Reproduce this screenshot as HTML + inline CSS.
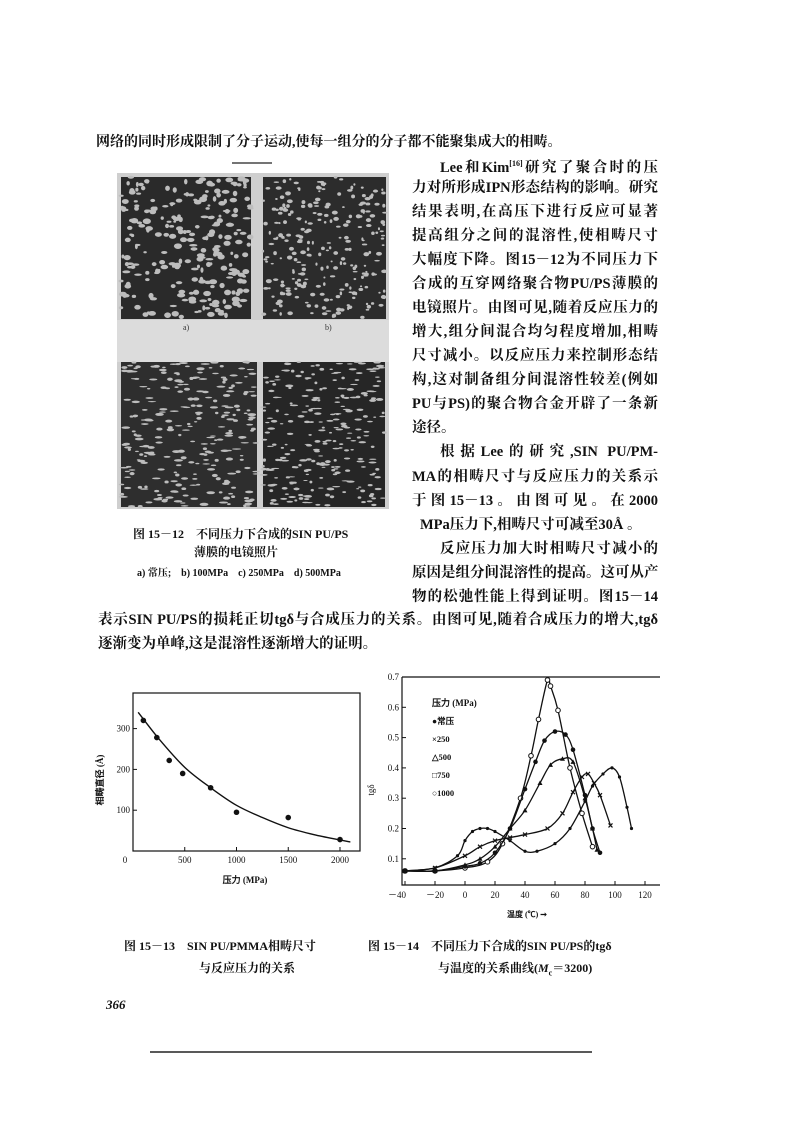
<!DOCTYPE html>
<html><head><meta charset="utf-8">
<style>
html,body{margin:0;padding:0;background:#fff}
body{width:794px;height:1122px;position:relative;overflow:hidden;font-family:"Liberation Serif","Noto Serif CJK SC","Noto Sans CJK SC",serif;color:#111}
.ln{position:absolute;font-size:14.5px;line-height:18px;white-space:nowrap;font-weight:bold}
.j{width:246px;text-align:justify;text-align-last:justify}
.cap{position:absolute;font-size:12px;white-space:nowrap;font-weight:bold}
svg{position:absolute;left:0;top:0}
</style></head>
<body>
<div class="ln" style="left:96px;top:134px;font-size:14px">网络的同时形成限制了分子运动,使每一组分的分子都不能聚集成大的相畴。</div>
<div>
<div class="ln j" style="left:412px;top:155px;width:246px;text-indent:28px;box-sizing:border-box">Lee和Kim<sup style="font-size:8px">[16]</sup>研究了聚合时的压</div>
<div class="ln j" style="left:412px;top:179px">力对所形成IPN形态结构的影响。研究</div>
<div class="ln j" style="left:412px;top:203px">结果表明,在高压下进行反应可显著</div>
<div class="ln j" style="left:412px;top:227px">提高组分之间的混溶性,使相畴尺寸</div>
<div class="ln j" style="left:412px;top:251px">大幅度下降。图15－12为不同压力下</div>
<div class="ln j" style="left:412px;top:275px">合成的互穿网络聚合物PU/PS薄膜的</div>
<div class="ln j" style="left:412px;top:299px">电镜照片。由图可见,随着反应压力的</div>
<div class="ln j" style="left:412px;top:323px">增大,组分间混合均匀程度增加,相畴</div>
<div class="ln j" style="left:412px;top:347px">尺寸减小。以反应压力来控制形态结</div>
<div class="ln j" style="left:412px;top:371px">构,这对制备组分间混溶性较差(例如</div>
<div class="ln j" style="left:412px;top:395px">PU与PS)的聚合物合金开辟了一条新</div>
<div class="ln" style="left:412px;top:419px">途径。</div>
<div class="ln j" style="left:412px;top:443px;padding-left:28px;box-sizing:border-box">根据Lee的研究,SIN PU/PM-</div>
<div class="ln j" style="left:412px;top:468px">MA的相畴尺寸与反应压力的关系示</div>
<div class="ln j" style="left:412px;top:492px">于图15－13。由图可见。在2000</div>
<div class="ln" style="left:420px;top:516px">MPa压力下,相畴尺寸可减至30Å 。</div>
<div class="ln j" style="left:412px;top:540px;padding-left:28px;box-sizing:border-box">反应压力加大时相畴尺寸减小的</div>
<div class="ln j" style="left:412px;top:564px">原因是组分间混溶性的提高。这可从产</div>
<div class="ln j" style="left:412px;top:588px">物的松弛性能上得到证明。图15－14</div>
<div class="ln" style="left:98px;top:611px;width:560px;text-align:justify;text-align-last:justify">表示SIN PU/PS的损耗正切tgδ与合成压力的关系。由图可见,随着合成压力的增大,tgδ</div>
<div class="ln" style="left:98px;top:635px">逐渐变为单峰,这是混溶性逐渐增大的证明。</div>
</div>
<div class="cap" style="left:133px;top:525px">图 15－12　不同压力下合成的SIN PU/PS</div>
<div class="cap" style="left:194px;top:543px">薄膜的电镜照片</div>
<div class="cap" style="left:137px;top:564px;font-size:10px">a) 常压;　b) 100MPa　c) 250MPa　d) 500MPa</div>
<div class="cap" style="left:124px;top:937px">图 15－13　SIN PU/PMMA相畴尺寸</div>
<div class="cap" style="left:199px;top:959px">与反应压力的关系</div>
<div class="cap" style="left:368px;top:937px">图 15－14　不同压力下合成的SIN PU/PS的tgδ</div>
<div class="cap" style="left:438px;top:959px">与温度的关系曲线(<i>M</i><sub style="font-size:8px">c</sub>＝3200)</div>
<div class="cap" style="left:106px;top:997px;font-style:italic;font-size:13px">366</div>

<svg id="s" width="794" height="1122" viewBox="0 0 794 1122">
<line x1="232" y1="163" x2="272" y2="163" stroke="#222" stroke-width="1.2"/>
<line x1="150" y1="1052" x2="592" y2="1052" stroke="#222" stroke-width="1.5"/>
<rect x="117" y="173" width="272" height="336" fill="#cfcfcf"/>
<rect x="121" y="177" width="130" height="142" fill="#2a2a2a"/>
<rect x="263" y="177" width="123" height="142" fill="#2c2c2c"/>
<rect x="121" y="362" width="136" height="145" fill="#2e2e2e"/>
<rect x="263" y="362" width="122" height="145" fill="#262626"/>
<rect x="117" y="320" width="272" height="42" fill="#dcdcdc"/>
<text x="183" y="330" font-size="8" fill="#333">a)</text>
<text x="325" y="330" font-size="8" fill="#333">b)</text>
<g id="speck" fill="#c8c8c8"></g>
<g id="c13" font-family="Liberation Serif,serif" font-size="9" fill="#111"></g>
<g id="c14" font-family="Liberation Serif,serif" font-size="9" fill="#111"></g>
</svg>
<script>
// Fig 15-13 data
const pressures=[100,230,350,480,750,1000,1500,2000];
const sizes=[320,278,222,190,155,95,82,28];
const fitP=[50,250,500,750,1000,1250,1500,1750,2000,2100];
const fitS=[340,275,205,155,112,82,57,40,27,22];
const xTicks13=[0,500,1000,1500,2000];
const yTicks13=[100,200,300];
// Fig 15-14 data
const temps=[-40,-20,0,20,40,60,80,100,120];
const yTicks14=[0.1,0.2,0.3,0.4,0.5,0.6,0.7];
const tA=[-40,-20,0,15,25,37,44,49,55,57,62,70,78,85];
const vA=[0.06,0.06,0.07,0.09,0.15,0.30,0.44,0.56,0.69,0.67,0.59,0.40,0.25,0.14];
const tB=[-40,-20,0,10,20,30,40,47,53,60,67,72,80,85,90];
const vB=[0.06,0.06,0.075,0.085,0.12,0.20,0.33,0.42,0.49,0.52,0.51,0.46,0.31,0.20,0.12];
const tC=[-40,-20,0,10,20,30,40,50,57,65,72,80,85,88];
const vC=[0.06,0.06,0.08,0.10,0.14,0.20,0.26,0.35,0.41,0.43,0.42,0.30,0.20,0.13];
const tD=[-40,-20,0,10,20,30,40,55,65,72,78,82,86,90,97];
const vD=[0.06,0.07,0.11,0.14,0.16,0.17,0.18,0.20,0.25,0.32,0.37,0.38,0.35,0.31,0.21];
const tE=[-40,-20,-5,0,5,10,15,20,30,40,48,60,70,80,85,92,98,103,108,111];
const vE=[0.06,0.07,0.11,0.16,0.19,0.20,0.20,0.19,0.16,0.125,0.125,0.15,0.20,0.29,0.34,0.38,0.40,0.37,0.27,0.20];
const legendLabels=['压力 (MPa)','●常压','×250','△500','□750','○1000'];

const NS='http://www.w3.org/2000/svg';
function mk(tag,attrs,parent){const e=document.createElementNS(NS,tag);for(const k in attrs)e.setAttribute(k,attrs[k]);parent.appendChild(e);return e;}
function smooth(pts){let d='M'+pts[0][0]+','+pts[0][1];for(let i=0;i<pts.length-1;i++){const p0=pts[Math.max(0,i-1)],p1=pts[i],p2=pts[i+1],p3=pts[Math.min(pts.length-1,i+2)];
const c1x=p1[0]+(p2[0]-p0[0])/6,c1y=p1[1]+(p2[1]-p0[1])/6,c2x=p2[0]-(p3[0]-p1[0])/6,c2y=p2[1]-(p3[1]-p1[1])/6;
d+=' C'+c1x+','+c1y+' '+c2x+','+c2y+' '+p2[0]+','+p2[1];}return d;}

// speckles (photo texture)
let seed=7;function rnd(){seed=(seed*16807)%2147483647;return seed/2147483647;}
const sp=document.getElementById('speck');
[[121,177,130,142,1.8],[263,177,123,142,1.3],[121,362,136,145,1],[263,362,122,145,0.9]].forEach(r=>{
 for(let i=0;i<260;i++){const e=mk('ellipse',{cx:r[0]+rnd()*r[2],cy:r[1]+rnd()*r[3],rx:r[4]*(0.8+rnd()*1.5)*(r[4]<1.2?2:1),ry:r[4]*(0.6+rnd()),fill:'#bdbdbd'},sp);
 
 }
});

// Fig 15-13
const g13=document.getElementById('c13');
const x13=p=>133+p*207/2000, y13=v=>851-v*0.408;
const ax=mk('rect',{x:133,y:693,width:227,height:158,fill:'none',stroke:'#111','stroke-width':1.2},g13);


xTicks13.forEach(t=>{mk('line',{x1:x13(t),y1:851,x2:x13(t),y2:847,stroke:'#111'},g13);
 const tx=mk('text',{x:t===0?x13(t)-8:x13(t),y:863,'text-anchor':'middle'},g13);tx.textContent=t;
 
 });
yTicks13.forEach(t=>{mk('line',{x1:133,y1:y13(t),x2:137,y2:y13(t),stroke:'#111'},g13);
 const tx=mk('text',{x:130,y:y13(t)+3,'text-anchor':'end'},g13);tx.textContent=t;
 
 });
let t=mk('text',{x:245,y:883,'text-anchor':'middle','font-weight':'bold'},g13);t.textContent='压力 (MPa)';


t=mk('text',{x:0,y:0,transform:'translate(103,780) rotate(-90)','text-anchor':'middle','font-weight':'bold'},g13);t.textContent='相畴直径 (Å)';


let fp=mk('path',{d:smooth(fitP.map((p,i)=>[x13(p),y13(fitS[i])])),fill:'none',stroke:'#111','stroke-width':1.4},g13);


pressures.forEach((p,i)=>{const c=mk('circle',{cx:x13(p),cy:y13(sizes[i]),r:2.8,fill:'#111'},g13);
 
 });

// Fig 15-14
const g14=document.getElementById('c14');
const x14=v=>465+v*1.5, y14=v=>677+(0.7-v)*303;
const f2=mk('path',{d:'M402,677 L402,885 L660,885 M402,677 L660,677',fill:'none',stroke:'#111','stroke-width':1.2},g14);


temps.forEach(v=>{mk('line',{x1:x14(v),y1:885,x2:x14(v),y2:881,stroke:'#111'},g14);
 const tx=mk('text',{x:x14(v)+(v===-40?-8:0),y:898,'text-anchor':'middle'},g14);tx.textContent=v<0?'－'+(-v):v;
 
 });
yTicks14.forEach(v=>{mk('line',{x1:402,y1:y14(v),x2:406,y2:y14(v),stroke:'#111'},g14);
 const tx=mk('text',{x:399,y:y14(v)+3,'text-anchor':'end'},g14);tx.textContent=v.toFixed(1);
 
 });
t=mk('text',{x:527,y:917,'text-anchor':'middle','font-weight':'bold','font-size':8},g14);t.textContent='温度 (℃) ➞';


t=mk('text',{x:0,y:0,transform:'translate(374,790) rotate(-90)','text-anchor':'middle','font-size':9},g14);t.textContent='tgδ';


const series=[[tA,vA,'o'],[tB,vB,'f'],[tC,vC,'t'],[tD,vD,'x'],[tE,vE,'d']];
series.forEach(s=>{
 const pts=s[0].map((v,i)=>[x14(v),y14(s[1][i])]);
 const p=mk('path',{d:smooth(pts),fill:'none',stroke:'#111','stroke-width':1.3},g14);
 
 
 pts.forEach(q=>{let m;
  if(s[2]==='o')m=mk('circle',{cx:q[0],cy:q[1],r:2.3,fill:'#fff',stroke:'#111'},g14);
  else if(s[2]==='f')m=mk('circle',{cx:q[0],cy:q[1],r:2.3,fill:'#111'},g14);
  else if(s[2]==='t')m=mk('path',{d:`M${q[0]-2.5},${q[1]+2} L${q[0]},${q[1]-2.5} L${q[0]+2.5},${q[1]+2}Z`,fill:'#111'},g14);
  else if(s[2]==='x')m=mk('path',{d:`M${q[0]-2},${q[1]-2} L${q[0]+2},${q[1]+2} M${q[0]+2},${q[1]-2} L${q[0]-2},${q[1]+2}`,stroke:'#111','stroke-width':1.2},g14);
  else m=mk('circle',{cx:q[0],cy:q[1],r:1.6,fill:'#111'},g14);
  
  });
});
legendLabels.forEach((l,i)=>{const tx=mk('text',{x:432,y:706+i*18,'font-size':i===0?9:8.5,'font-weight':'bold'},g14);tx.textContent=l;
 
 });
</script>
</body></html>
